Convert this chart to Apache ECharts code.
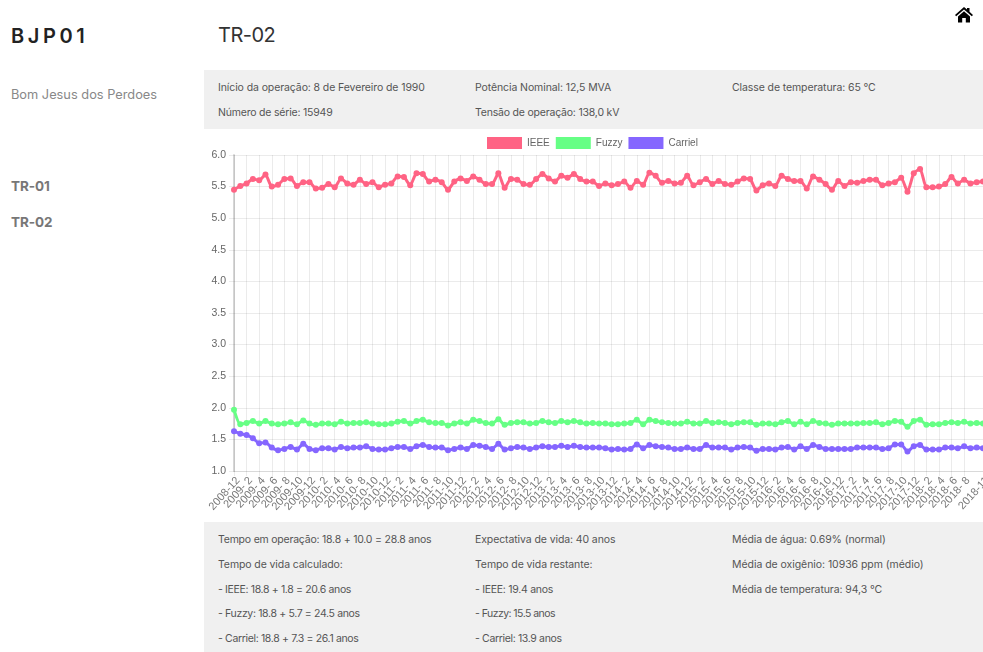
<!DOCTYPE html>
<html lang="pt">
<head>
<meta charset="utf-8">
<title>TR-02</title>
<script src="https://cdn.jsdelivr.net/npm/echarts@6/dist/echarts.min.js"></script>
<style>
html,body{margin:0;padding:0;background:#fff;width:983px;height:652px;overflow:hidden}
body{position:relative;font-family:Inter,"Open Sans",sans-serif;color:#555}
.t{position:absolute;white-space:nowrap;font-size:10.5px;line-height:14px;letter-spacing:-.1px}
.n{letter-spacing:-.35px}
.panel{position:absolute;left:204px;width:779px;background:#f0f0f0}
#chart{position:absolute;left:204px;top:130px;width:779px;height:392px}
</style>
</head>
<body>
<div class="t" style="left:11px;top:24px;font-size:20px;line-height:24px;font-weight:600;letter-spacing:3.6px;color:#222">BJP01</div>
<div class="t" style="left:218px;top:22px;font-size:20px;line-height:26px;font-weight:400;color:#333;letter-spacing:-.5px">TR-02</div>
<div class="t" style="left:11px;top:88px;font-size:12.8px;color:#888;letter-spacing:0">Bom Jesus dos Perdoes</div>
<div class="t" style="left:11px;top:178px;font-size:13.5px;font-weight:700;color:#777;line-height:16px">TR-01</div>
<div class="t" style="left:11px;top:214px;font-size:13.5px;font-weight:700;color:#777;line-height:16px">TR-02</div>
<svg style="position:absolute;left:955px;top:7px" width="18" height="16" viewBox="0 0 18 16"><path fill="#000" d="M9 0 L12 2.6 V1 H14.5 V4.8 L18 8 L16.8 9.2 L9 2.4 L1.2 9.2 L0 8 Z M3 9.4 L9 4.2 L15 9.4 V15.5 H10.8 V11 H7.2 V15.5 H3 Z"/></svg>

<div class="panel" style="top:70px;height:59px"></div>
<div class="panel" style="top:522px;height:130px"></div>

<div class="t" style="left:218px;top:81px">Início da operação: 8 de Fevereiro de 1990</div>
<div class="t" style="left:475px;top:81px">Potência Nominal: 12,5 MVA</div>
<div class="t" style="left:732px;top:81px">Classe de temperatura: 65 °C</div>
<div class="t" style="left:218px;top:106px;letter-spacing:-.2px">Número de série: 15949</div>
<div class="t" style="left:475px;top:106px;letter-spacing:-.2px">Tensão de operação: 138,0 kV</div>

<div class="t" style="left:218px;top:533px;letter-spacing:-.22px">Tempo em operação: 18.8 + 10.0 = 28.8 anos</div>
<div class="t" style="left:218px;top:558px">Tempo de vida calculado:</div>
<div class="t n" style="left:218px;top:583px">- IEEE: 18.8 + 1.8 = 20.6 anos</div>
<div class="t n" style="left:218px;top:607px">- Fuzzy: 18.8 + 5.7 = 24.5 anos</div>
<div class="t n" style="left:218px;top:632px">- Carriel: 18.8 + 7.3 = 26.1 anos</div>
<div class="t" style="left:475px;top:533px">Expectativa de vida: 40 anos</div>
<div class="t" style="left:475px;top:558px">Tempo de vida restante:</div>
<div class="t" style="left:475px;top:583px;letter-spacing:-.28px">- IEEE: 19.4 anos</div>
<div class="t" style="left:475px;top:607px;letter-spacing:-.55px">- Fuzzy: 15.5 anos</div>
<div class="t" style="left:475px;top:632px;letter-spacing:-.35px">- Carriel: 13.9 anos</div>
<div class="t" style="left:732px;top:533px">Média de água: 0.69% (normal)</div>
<div class="t" style="left:732px;top:558px;letter-spacing:-.05px">Média de oxigênio: 10936 ppm (médio)</div>
<div class="t" style="left:732px;top:583px">Média de temperatura: 94,3 °C</div>

<div id="chart"></div>
<script>
const categories = [
'2008-12','2009- 1','2009- 2','2009- 3','2009- 4','2009- 5','2009- 6','2009- 7','2009- 8','2009- 9','2009-10','2009-11','2009-12',
'2010- 1','2010- 2','2010- 3','2010- 4','2010- 5','2010- 6','2010- 7','2010- 8','2010- 9','2010-10','2010-11','2010-12',
'2011- 1','2011- 2','2011- 3','2011- 4','2011- 5','2011- 6','2011- 7','2011- 8','2011- 9','2011-10','2011-11','2011-12',
'2012- 1','2012- 2','2012- 3','2012- 4','2012- 5','2012- 6','2012- 7','2012- 8','2012- 9','2012-10','2012-11','2012-12',
'2013- 1','2013- 2','2013- 3','2013- 4','2013- 5','2013- 6','2013- 7','2013- 8','2013- 9','2013-10','2013-11','2013-12',
'2014- 1','2014- 2','2014- 3','2014- 4','2014- 5','2014- 6','2014- 7','2014- 8','2014- 9','2014-10','2014-11','2014-12',
'2015- 1','2015- 2','2015- 3','2015- 4','2015- 5','2015- 6','2015- 7','2015- 8','2015- 9','2015-10','2015-11','2015-12',
'2016- 1','2016- 2','2016- 3','2016- 4','2016- 5','2016- 6','2016- 7','2016- 8','2016- 9','2016-10','2016-11','2016-12',
'2017- 1','2017- 2','2017- 3','2017- 4','2017- 5','2017- 6','2017- 7','2017- 8','2017- 9','2017-10','2017-11','2017-12',
'2018- 1','2018- 2','2018- 3','2018- 4','2018- 5','2018- 6','2018- 7','2018- 8','2018- 9','2018-10','2018-11'];

const ieee = [
5.45,5.51,5.55,5.62,5.60,5.69,5.50,5.53,5.62,5.63,5.51,5.57,5.57,5.47,5.48,5.54,5.49,5.63,5.55,5.53,
5.61,5.54,5.57,5.49,5.53,5.55,5.66,5.65,5.52,5.71,5.70,5.58,5.61,5.57,5.45,5.58,5.63,5.59,5.66,5.61,
5.54,5.54,5.71,5.48,5.62,5.61,5.54,5.53,5.62,5.70,5.63,5.58,5.67,5.64,5.70,5.62,5.58,5.58,5.51,5.55,
5.52,5.54,5.58,5.48,5.59,5.53,5.72,5.67,5.56,5.59,5.55,5.56,5.67,5.52,5.57,5.62,5.54,5.59,5.54,5.53,
5.58,5.63,5.62,5.44,5.52,5.55,5.51,5.67,5.62,5.59,5.59,5.47,5.66,5.61,5.54,5.45,5.59,5.51,5.57,5.56,
5.59,5.61,5.61,5.52,5.55,5.57,5.64,5.42,5.71,5.78,5.49,5.49,5.50,5.54,5.65,5.55,5.61,5.55,5.57,5.58];

const fuzzy = [
1.97,1.74,1.76,1.79,1.75,1.79,1.75,1.74,1.75,1.77,1.74,1.80,1.75,1.73,1.75,1.75,1.74,1.78,1.75,1.76,
1.76,1.77,1.75,1.74,1.74,1.75,1.78,1.79,1.75,1.79,1.81,1.77,1.76,1.76,1.72,1.75,1.77,1.75,1.81,1.79,
1.76,1.75,1.82,1.73,1.76,1.77,1.77,1.75,1.76,1.79,1.77,1.76,1.79,1.77,1.79,1.77,1.75,1.76,1.75,1.75,
1.74,1.74,1.75,1.76,1.81,1.74,1.81,1.79,1.77,1.76,1.75,1.75,1.78,1.75,1.75,1.79,1.76,1.77,1.76,1.74,
1.76,1.77,1.77,1.73,1.75,1.75,1.74,1.77,1.79,1.74,1.78,1.74,1.79,1.76,1.75,1.73,1.75,1.75,1.75,1.75,
1.76,1.76,1.77,1.74,1.76,1.79,1.78,1.70,1.79,1.81,1.73,1.74,1.74,1.76,1.77,1.76,1.78,1.75,1.76,1.75];

const carriel = [
1.63,1.59,1.57,1.52,1.44,1.45,1.37,1.33,1.35,1.38,1.34,1.43,1.35,1.33,1.36,1.36,1.34,1.38,1.36,1.37,
1.37,1.39,1.35,1.34,1.34,1.36,1.38,1.38,1.35,1.39,1.41,1.38,1.37,1.37,1.33,1.35,1.37,1.35,1.41,1.40,
1.38,1.35,1.43,1.34,1.36,1.38,1.37,1.35,1.37,1.39,1.38,1.38,1.40,1.38,1.40,1.38,1.37,1.37,1.37,1.36,
1.34,1.35,1.34,1.35,1.42,1.36,1.41,1.39,1.38,1.37,1.35,1.35,1.37,1.35,1.35,1.41,1.37,1.37,1.37,1.34,
1.37,1.38,1.37,1.32,1.35,1.35,1.34,1.37,1.38,1.34,1.39,1.35,1.41,1.38,1.35,1.35,1.35,1.35,1.35,1.37,
1.37,1.37,1.37,1.35,1.36,1.42,1.42,1.31,1.39,1.41,1.34,1.34,1.34,1.37,1.37,1.36,1.39,1.36,1.37,1.36];

const seriesNames = ['IEEE','Fuzzy','Carriel'];
const seriesColors = ['#ff6384','#66ff85','#8566ff'];
const seriesValues = [ieee,fuzzy,carriel];

const grid = 'rgba(0,0,0,0.08)';
const shown = i => (i % 2 === 0 && i <= 116) || i === 119;
const chart = echarts.init(document.getElementById('chart'), null, {renderer:'canvas'});
chart.setOption({
  animation:false,
  legend:{
    left:278, top:2, icon:'rect', itemWidth:35, itemHeight:12, itemGap:6,
    textStyle:{color:'#666',fontSize:10,fontFamily:'Liberation Sans'},
    data:seriesNames
  },
  grid:{left:30,top:25,width:749,height:316,containLabel:false,outerBoundsMode:'none'},
  xAxis:{
    type:'category', data:categories, boundaryGap:false,
    axisLine:{lineStyle:{color:grid}},
    axisTick:{show:true,interval:shown,length:5,lineStyle:{color:grid}},
    splitLine:{show:true,interval:shown,lineStyle:{color:grid,width:1}},
    axisLabel:{interval:0,rotate:48,color:'#777',fontSize:11,fontFamily:'Liberation Sans',margin:4,hideOverlap:false,
      verticalAlign:'top',formatter:(v,i)=>shown(i)?v:''}
  },
  yAxis:{
    type:'value', min:1, max:6, interval:0.5,
    axisLine:{show:true,lineStyle:{color:'rgba(0,0,0,0.16)',width:2}},
    axisTick:{show:true,length:5,lineStyle:{color:grid}},
    splitLine:{show:true,lineStyle:{color:grid}},
    axisLabel:{color:'#666',fontSize:10.5,fontFamily:'Liberation Sans',margin:8,formatter:v=>v.toFixed(1)}
  },
  series:seriesNames.map((n,i)=>({
    name:n,type:'line',data:seriesValues[i],smooth:0.2,clip:false,
    symbol:'circle',symbolSize:6,showSymbol:true,showAllSymbol:true,
    lineStyle:{color:seriesColors[i],width:3},
    itemStyle:{color:seriesColors[i]}
  }))
});
</script>
</body>
</html>
